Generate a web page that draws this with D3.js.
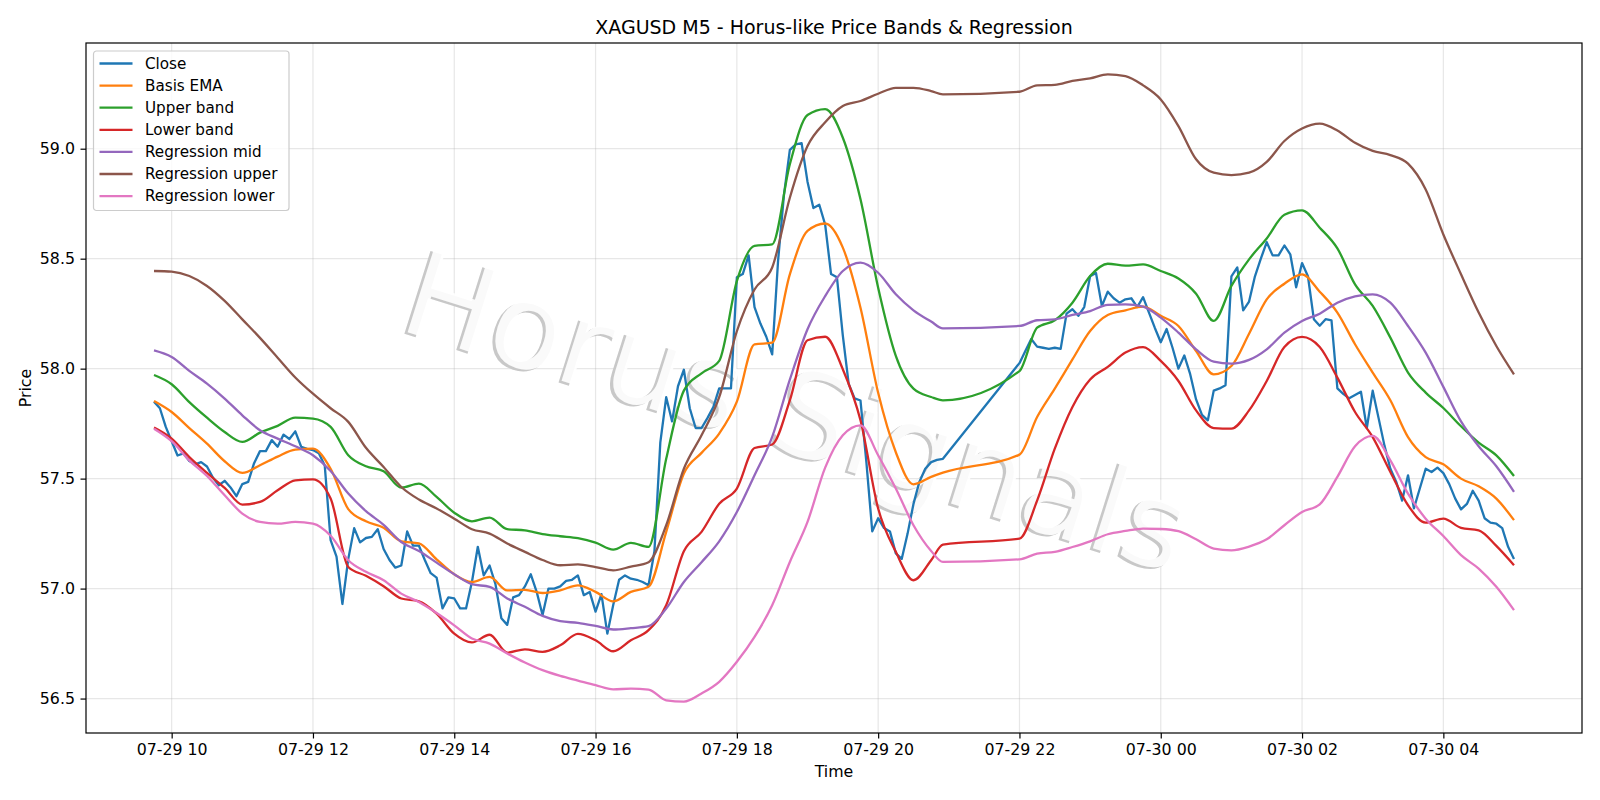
<!DOCTYPE html>
<html lang="en">
<head>
<meta charset="UTF-8">
<title>XAGUSD M5 - Horus-like Price Bands & Regression</title>
<script src="https://d3js.org/d3.v7.min.js"></script>
<style>
  body { margin: 0; background: #fff; }
  text { font-family: 'DejaVu Sans', sans-serif; }
</style>
</head>
<body>
<script>
const width = 1600, height = 800;
const margin = {top: 43, right: 18, bottom: 67, left: 86};

// two trading sessions (data pauses 21:00-22:00)
const sessions = [
  ["2025-07-29 09:45", "2025-07-29 20:55"],
  ["2025-07-29 22:00", "2025-07-30 05:00"]
];

// close, one value per 5 min bar
const close = [
  57.85, 57.82, 57.735,
  57.67, 57.605, 57.615, 57.58, 57.565, 57.575, 57.555, 57.505, 57.47, 57.49, 57.46, 57.42,
  57.475, 57.485, 57.57, 57.625, 57.625, 57.675, 57.645, 57.70, 57.68, 57.715, 57.645, 57.635,
  57.63, 57.615, 57.56, 57.22, 57.145, 56.93, 57.135, 57.275, 57.21, 57.23, 57.235, 57.27,
  57.18, 57.13, 57.095, 57.105, 57.26, 57.195, 57.195, 57.13, 57.07, 57.05, 56.91, 56.96,
  56.955, 56.91, 56.91, 57.03, 57.19, 57.06, 57.105, 57.02, 56.865, 56.835, 56.96, 56.97,
  57.01, 57.065, 56.985, 56.88, 57.0, 57.0, 57.01, 57.035, 57.04, 57.06, 56.97, 56.985,
  56.895, 56.975, 56.795, 56.925, 57.04, 57.06, 57.045, 57.04, 57.03, 57.015, 57.17, 57.665,
  57.87, 57.76, 57.92, 57.995, 57.82, 57.73, 57.73, 57.775, 57.825, 57.91, 57.91, 57.91,
  58.415, 58.43, 58.515, 58.28, 58.205, 58.145, 58.065, 58.49, 58.79, 58.995, 59.02, 59.025,
  58.85, 58.73, 58.745, 58.655, 58.43, 58.415, 58.15, 57.93, 57.865, 57.855, 57.575, 57.26,
  57.32, 57.275, 57.26, 57.16, 57.135, 57.25, 57.385, 57.485, 57.545, 57.575, 57.585, 57.59,
  58.025, 58.08, 58.135, 58.10, 58.095, 58.09, 58.095, 58.09, 58.25, 58.27, 58.24, 58.28,
  58.42, 58.435, 58.285, 58.35, 58.32, 58.30, 58.315, 58.32, 58.28, 58.325, 58.255, 58.185,
  58.12, 58.18, 58.095, 58.0, 58.06, 57.975, 57.86, 57.79, 57.765, 57.90, 57.91, 57.925,
  58.42, 58.46, 58.265, 58.305, 58.42, 58.5, 58.575, 58.515, 58.515, 58.56, 58.52, 58.37,
  58.48, 58.42, 58.225, 58.195, 58.225, 58.22, 57.91, 57.885, 57.865, 57.88, 57.895, 57.73,
  57.90, 57.775, 57.65, 57.545, 57.485, 57.40, 57.515, 57.365, 57.455, 57.545, 57.53, 57.55,
  57.525, 57.475, 57.41, 57.36, 57.385, 57.445, 57.40, 57.32, 57.30, 57.295, 57.275, 57.19,
  57.135
];

// smoother lines, read every 15 min (+ last bar of first session)
const basisEma = [
  57.853, 57.803, 57.73, 57.659, 57.579, 57.526, 57.561, 57.60, 57.632, 57.636, 57.545, 57.361,
  57.306, 57.277, 57.215, 57.206, 57.133, 57.065, 57.03, 57.053, 56.992, 56.994, 56.98, 56.992,
  57.015, 56.985, 56.942, 56.985, 57.008, 57.258, 57.523, 57.617, 57.705, 57.85, 58.11, 58.118,
  58.429, 58.626, 58.66, 58.55, 58.277, 57.89, 57.62, 57.474, 57.508, 57.527,
  57.609, 57.78, 57.909, 58.042, 58.171, 58.244, 58.265, 58.282, 58.24, 58.194, 58.08, 57.974,
  58.012, 58.159, 58.315, 58.386, 58.429, 58.35, 58.255, 58.111, 57.982, 57.856, 57.689, 57.598,
  57.565, 57.50, 57.465, 57.409, 57.311
];
const upperBand = [
  57.971, 57.929, 57.848, 57.777, 57.712, 57.667, 57.709, 57.74, 57.777, 57.773, 57.735, 57.606,
  57.556, 57.533, 57.459, 57.477, 57.417, 57.345, 57.306, 57.323, 57.27, 57.265, 57.248, 57.238,
  57.229, 57.209, 57.177, 57.208, 57.19, 57.59, 57.9, 57.979, 58.035, 58.398, 58.558, 58.565,
  58.929, 59.153, 59.18, 59.05, 58.77, 58.368, 58.058, 57.909, 57.871, 57.856,
  57.989, 58.186, 58.22, 58.30, 58.421, 58.477, 58.468, 58.474, 58.444, 58.41, 58.341, 58.217,
  58.376, 58.497, 58.592, 58.70, 58.72, 58.641, 58.547, 58.383, 58.285, 58.141, 57.982, 57.891,
  57.821, 57.738, 57.664, 57.606, 57.512
];
const lowerBand = [
  57.732, 57.682, 57.598, 57.526, 57.458, 57.382, 57.394, 57.447, 57.492, 57.497, 57.41, 57.098,
  57.058, 57.011, 56.955, 56.942, 56.886, 56.795, 56.755, 56.79, 56.709, 56.724, 56.712, 56.742,
  56.794, 56.765, 56.715, 56.765, 56.811, 56.924, 57.17, 57.258, 57.386, 57.455, 57.639, 57.655,
  57.856, 58.129, 58.145, 57.997, 57.765, 57.364, 57.167, 57.038, 57.129, 57.2,
  57.227, 57.40, 57.636, 57.826, 57.951, 58.008, 58.073, 58.098, 58.035, 57.944, 57.81, 57.73,
  57.727, 57.81, 57.944, 58.098, 58.144, 58.098, 57.959, 57.803, 57.689, 57.53, 57.379, 57.30,
  57.318, 57.276, 57.265, 57.194, 57.106
];
const regMid = [
  58.083, 58.053, 57.99, 57.932, 57.864, 57.788, 57.72, 57.682, 57.647, 57.606, 57.535, 57.432,
  57.352, 57.29, 57.212, 57.171, 57.118, 57.065, 57.02, 57.008, 56.955, 56.917, 56.876, 56.852,
  56.844, 56.83, 56.814, 56.82, 56.829, 56.909, 57.03, 57.12, 57.215, 57.348, 57.515, 57.69,
  57.95, 58.179, 58.33, 58.444, 58.482, 58.436, 58.338, 58.265, 58.214, 58.183,
  58.194, 58.22, 58.224, 58.244, 58.262, 58.29, 58.292, 58.282, 58.232, 58.164, 58.088, 58.032,
  58.023, 58.04, 58.088, 58.164, 58.217, 58.25, 58.30, 58.329, 58.338, 58.30, 58.194, 58.073,
  57.917, 57.76, 57.647, 57.556, 57.44
];
const regUpper = [
  58.444, 58.441, 58.421, 58.376, 58.308, 58.224, 58.14, 58.05, 57.96, 57.886, 57.82, 57.758,
  57.64, 57.553, 57.462, 57.405, 57.364, 57.318, 57.27, 57.25, 57.205, 57.167, 57.13, 57.106,
  57.11, 57.098, 57.083, 57.10, 57.12, 57.288, 57.545, 57.697, 57.87, 58.17, 58.36, 58.46,
  58.777, 59.012, 59.12, 59.194, 59.217, 59.25, 59.277, 59.277, 59.262, 59.247,
  59.259, 59.288, 59.29, 59.308, 59.32, 59.338, 59.33, 59.288, 59.224, 59.103, 58.952, 58.891,
  58.88, 58.891, 58.94, 59.035, 59.092, 59.114, 59.083, 59.027, 58.99, 58.971, 58.932, 58.815,
  58.61, 58.429, 58.255, 58.103, 57.974
];
const regLower = [
  57.727, 57.67, 57.583, 57.512, 57.424, 57.341, 57.303, 57.295, 57.303, 57.295, 57.24, 57.129,
  57.076, 57.038, 56.977, 56.939, 56.889, 56.833, 56.773, 56.75, 56.705, 56.664, 56.629, 56.603,
  56.582, 56.561, 56.542, 56.545, 56.541, 56.492, 56.486, 56.523, 56.576, 56.667, 56.78, 56.924,
  57.121, 57.303, 57.55, 57.697, 57.742, 57.606, 57.455, 57.288, 57.171, 57.121,
  57.133, 57.159, 57.167, 57.189, 57.215, 57.247, 57.262, 57.273, 57.271, 57.261, 57.224, 57.182,
  57.174, 57.191, 57.224, 57.288, 57.348, 57.383, 57.508, 57.647, 57.694, 57.583, 57.432, 57.318,
  57.239, 57.152, 57.091, 57.008, 56.902
];

const xTicks = ["2025-07-29 10:00", "2025-07-29 12:00", "2025-07-29 14:00", "2025-07-29 16:00",
  "2025-07-29 18:00", "2025-07-29 20:00", "2025-07-29 22:00", "2025-07-30 00:00",
  "2025-07-30 02:00", "2025-07-30 04:00"];
const yTicks = [56.5, 57.0, 57.5, 58.0, 58.5, 59.0];

const parse = d3.utcParse("%Y-%m-%d %H:%M");

function sessionTimes(step) {
  return sessions.flatMap(([a, b]) => {
    const start = parse(a), end = parse(b);
    const t = d3.utcMinute.range(start, new Date(+end + 1), step);
    if (+t[t.length - 1] !== +end) t.push(end);
    return t;
  });
}
const closeTimes = sessionTimes(5);
const bandTimes = sessionTimes(15);

const series = [
  {name: "Close", times: closeTimes, values: close, color: "#1f77b4"},
  {name: "Basis EMA", times: bandTimes, values: basisEma, color: "#ff7f0e"},
  {name: "Upper band", times: bandTimes, values: upperBand, color: "#2ca02c"},
  {name: "Lower band", times: bandTimes, values: lowerBand, color: "#d62728"},
  {name: "Regression mid", times: bandTimes, values: regMid, color: "#9467bd"},
  {name: "Regression upper", times: bandTimes, values: regUpper, color: "#8c564b"},
  {name: "Regression lower", times: bandTimes, values: regLower, color: "#e377c2"}
];
series.forEach(s => { if (s.times.length !== s.values.length) console.warn(s.name, s.times.length, s.values.length); });

// matplotlib-like 5% margins
const tExt = d3.extent(closeTimes);
const tPad = (tExt[1] - tExt[0]) * 0.05;
const allVals = series.flatMap(s => s.values);
const [vMin, vMax] = d3.extent(allVals);
const vPad = (vMax - vMin) * 0.05;

const x = d3.scaleUtc()
  .domain([new Date(+tExt[0] - tPad), new Date(+tExt[1] + tPad)])
  .range([margin.left, width - margin.right]);
const y = d3.scaleLinear()
  .domain([vMin - vPad, vMax + vPad])
  .range([height - margin.bottom, margin.top]);

const svg = d3.select("body").append("svg")
  .attr("width", width).attr("height", height);

const plotW = width - margin.left - margin.right;
const plotH = height - margin.top - margin.bottom;
const fs = "15.8px";

// grid
const grid = svg.append("g").attr("stroke", "#b0b0b0").attr("stroke-opacity", 0.3).attr("stroke-width", 1.2);
grid.selectAll(".gx").data(xTicks.map(parse)).join("line")
  .attr("x1", d => x(d)).attr("x2", d => x(d))
  .attr("y1", margin.top).attr("y2", height - margin.bottom);
grid.selectAll(".gy").data(yTicks).join("line")
  .attr("x1", margin.left).attr("x2", width - margin.right)
  .attr("y1", d => y(d)).attr("y2", d => y(d));

// watermark
const wm = svg.append("g")
  .attr("transform", "translate(797,412) rotate(17.5)")
  .style("font-size", "119px")
  .attr("text-anchor", "middle")
  .attr("dominant-baseline", "central");
wm.append("text").attr("x", -2.5).attr("y", 2.5).attr("fill", "#c8c8c8").text("Horus Signals");
wm.append("text").attr("fill", "#fff").attr("fill-opacity", 0.9).text("Horus Signals");

// lines: close is per bar, the sampled indicator lines get a monotone curve
const closeLine = d3.line().x(d => x(d[0])).y(d => y(d[1]));
const smoothLine = d3.line().x(d => x(d[0])).y(d => y(d[1])).curve(d3.curveMonotoneX);
svg.append("g").selectAll("path").data(series).join("path")
  .attr("fill", "none")
  .attr("stroke", d => d.color)
  .attr("stroke-width", 2.3)
  .attr("stroke-linejoin", "round")
  .attr("d", d => (d.name === "Close" ? closeLine : smoothLine)(d3.zip(d.times, d.values)));

// axes
const xAxis = svg.append("g")
  .attr("transform", `translate(0,${height - margin.bottom})`)
  .call(d3.axisBottom(x).tickValues(xTicks.map(parse)).tickFormat(d3.utcFormat("%m-%d %H"))
    .tickSize(5.5).tickPadding(5.5));
const yAxis = svg.append("g")
  .attr("transform", `translate(${margin.left},0)`)
  .call(d3.axisLeft(y).tickValues(yTicks).tickFormat(d3.format(".1f"))
    .tickSize(5.5).tickPadding(5.5));
[xAxis, yAxis].forEach(g => {
  g.select(".domain").remove();
  g.selectAll(".tick line").attr("stroke", "#000").attr("stroke-width", 1.2);
  g.selectAll(".tick text").attr("fill", "#000").style("font-size", fs)
    .style("font-family", "'DejaVu Sans', sans-serif");
});

svg.append("rect")
  .attr("x", margin.left).attr("y", margin.top)
  .attr("width", plotW).attr("height", plotH)
  .attr("fill", "none").attr("stroke", "#000").attr("stroke-width", 1.2);

// labels
svg.append("text")
  .attr("x", margin.left + plotW / 2).attr("y", 33.5)
  .attr("text-anchor", "middle").style("font-size", "19px")
  .text("XAGUSD M5 - Horus-like Price Bands & Regression");
svg.append("text")
  .attr("x", margin.left + plotW / 2).attr("y", 777)
  .attr("text-anchor", "middle").style("font-size", fs)
  .text("Time");
svg.append("text")
  .attr("transform", `translate(31,${margin.top + plotH / 2}) rotate(-90)`)
  .attr("text-anchor", "middle").style("font-size", fs)
  .text("Price");

// legend
const legend = svg.append("g").attr("transform", "translate(93.5,51)");
legend.append("rect")
  .attr("width", 195.5).attr("height", 159.5).attr("rx", 3)
  .attr("fill", "#fff").attr("fill-opacity", 0.8)
  .attr("stroke", "#cccccc").attr("stroke-width", 1.2);
const item = legend.selectAll(".item").data(series).join("g")
  .attr("transform", (d, i) => `translate(0,${12.5 + i * 22.1})`);
item.append("line")
  .attr("x1", 6).attr("x2", 39)
  .attr("stroke", d => d.color).attr("stroke-width", 2.3);
item.append("text")
  .attr("x", 51.5).attr("dy", "0.35em")
  .style("font-size", "15.2px")
  .text(d => d.name);
</script>
</body>
</html>
